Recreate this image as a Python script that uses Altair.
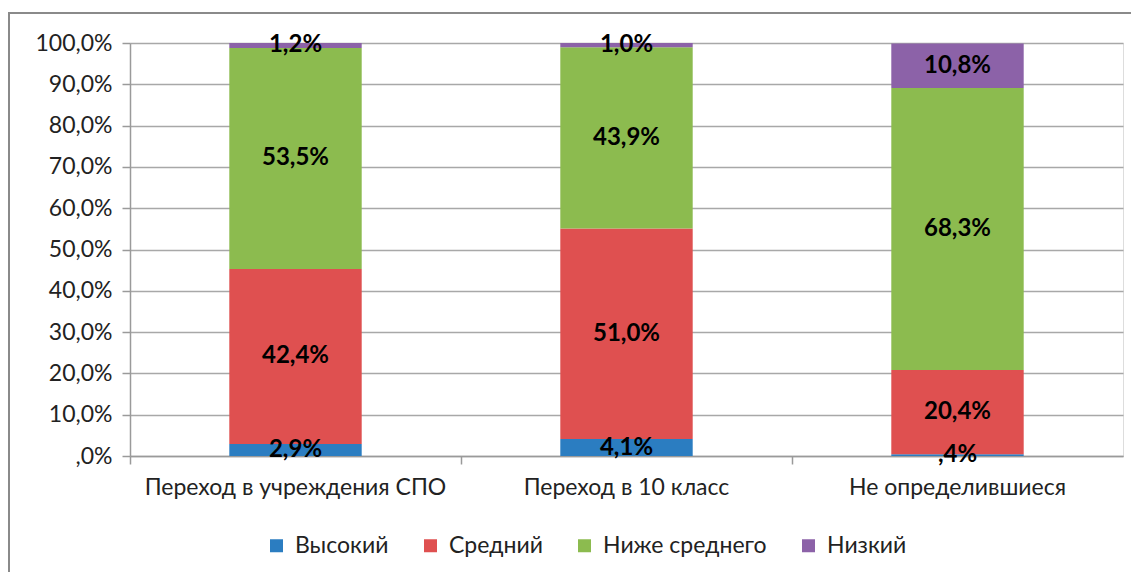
import altair as alt
import pandas as pd

categories = ["Переход в учреждения СПО", "Переход в 10 класс", "Не определившиеся"]
series = ["Высокий", "Средний", "Ниже среднего", "Низкий"]
colors = ["#2b7dc1", "#df5050", "#8cbb4f", "#8c62a8"]

vysokiy = [2.9, 4.1, 0.4]
sredniy = [42.4, 51.0, 20.4]
nizhe_srednego = [53.5, 43.9, 68.3]
nizkiy = [1.2, 1.0, 10.8]

values = [vysokiy, sredniy, nizhe_srednego, nizkiy]


def fmt(v):
    s = f"{v:.1f}".replace(".", ",")
    if s.startswith("0"):
        s = s[1:]
    return s + "%"


rows = []
for si, (name, vals) in enumerate(zip(series, values)):
    for ci, cat in enumerate(categories):
        rows.append({"cat": cat, "series": name, "order": si,
                     "value": vals[ci], "label": fmt(vals[ci])})
df = pd.DataFrame(rows)

W, H = 993, 413
FONT = "Lato"

x = alt.X("cat:N", sort=categories, title=None,
          scale=alt.Scale(paddingInner=0.6, paddingOuter=0.3),
          axis=alt.Axis(labelAngle=0, labelFontSize=23, labelColor="#222222",
                        labelFont=FONT, labelPadding=12, tickSize=8, labelLimit=0,
                        bandPosition=-0.75, domainColor="#9a9a9a",
                        tickColor="#9a9a9a", domainWidth=1.5, tickWidth=1.5))

y = alt.Y("sum(value):Q", stack="zero", title=None,
          scale=alt.Scale(domain=[0, 100], nice=False),
          axis=alt.Axis(values=list(range(0, 101, 10)), tickSize=8,
                        labelExpr="datum.value == 0 ? ',0%' : replace(format(datum.value, '.1f'), '.', ',') + '%'",
                        labelFontSize=23, labelColor="#222222", labelFont=FONT,
                        labelPadding=10, gridColor="#a8a8a8", gridWidth=1.5,
                        domainColor="#9a9a9a", tickColor="#9a9a9a",
                        domainWidth=1.5, tickWidth=1.5))

bars = alt.Chart(df).mark_bar().encode(
    x=x,
    y=y,
    color=alt.Color("series:N", sort=series,
                    scale=alt.Scale(domain=series, range=colors),
                    legend=alt.Legend(title=None, orient="none", direction="horizontal",
                                      legendX=135, legendY=78 + H,
                                      symbolType="square", symbolSize=169,
                                      symbolStrokeWidth=0, labelFontSize=23,
                                      labelFont=FONT, labelColor="#222222",
                                      labelLimit=0,
                                      labelOffset=7, columnPadding=30)),
    order=alt.Order("order:Q", sort="ascending"),
)

text = alt.Chart(df).mark_text(fontSize=24, fontWeight="bold", color="black",
                               font=FONT, baseline="middle").encode(
    x=alt.X("cat:N", sort=categories),
    y=alt.Y("value:Q", stack="zero", bandPosition=0.5),
    detail="series:N",
    order=alt.Order("order:Q", sort="ascending"),
    text="label:N",
)

frame = alt.Chart(df).mark_rect(fill=None, stroke="#8a8a8a", strokeWidth=2).encode(
    x=alt.value(-121), x2=alt.value(W + 40),
    y=alt.value(-30), y2=alt.value(H + 200),
)

chart = alt.layer(frame, bars, text).properties(
    width=W, height=H,
    autosize=alt.AutoSizeParams(type="none"),
    padding={"left": 122, "top": 35, "right": 8, "bottom": 116},
).configure_view(stroke=None).configure(background="white")

chart.save("out.html", embed_options={"renderer": "svg", "actions": False})
